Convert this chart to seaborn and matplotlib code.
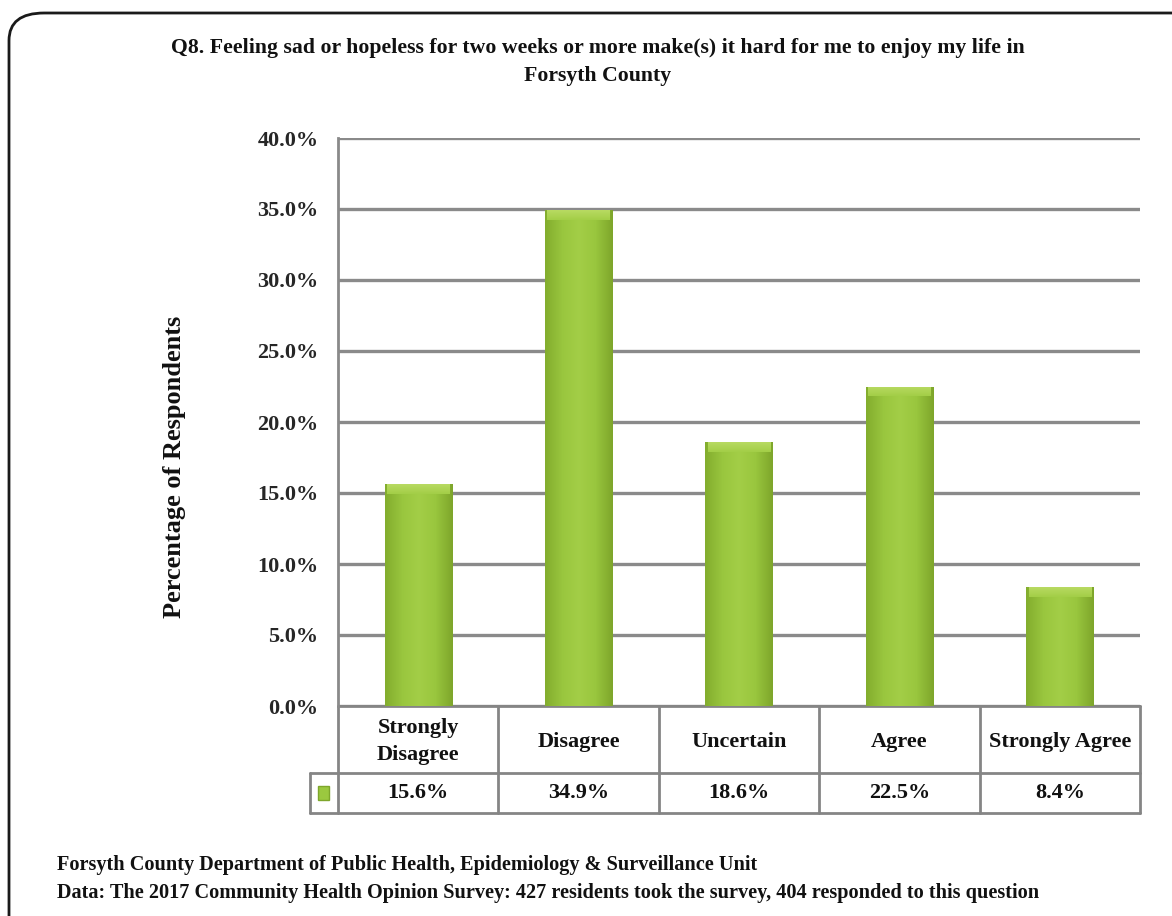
import matplotlib
matplotlib.use("Agg")
import matplotlib.pyplot as plt
import matplotlib.patches as mpatches
from matplotlib.colors import LinearSegmentedColormap
import numpy as np
import pandas as pd
import seaborn as sns

categories = ["Strongly\nDisagree", "Disagree", "Uncertain", "Agree", "Strongly Agree"]
values = [15.6, 34.9, 18.6, 22.5, 8.4]
value_labels = ["15.6%", "34.9%", "18.6%", "22.5%", "8.4%"]
yticks = [0, 5, 10, 15, 20, 25, 30, 35, 40]

title = ("Q8. Feeling sad or hopeless for two weeks or more make(s) it hard for me to enjoy my life in\n"
         "Forsyth County")
ylabel = "Percentage of Respondents"
footer1 = "Forsyth County Department of Public Health, Epidemiology & Surveillance Unit"
footer2 = ("Data: The 2017 Community Health Opinion Survey: 427 residents took the survey, "
           "404 responded to this question")

sns.set_theme(style="white")
plt.rcParams["font.family"] = ["Liberation Serif", "DejaVu Serif"]
plt.rcParams["font.weight"] = "bold"

W, H = 1172, 916
fig = plt.figure(figsize=(W / 100, H / 100), dpi=100)
fig.patch.set_facecolor("white")

# rounded outer frame
frame = mpatches.FancyBboxPatch((9 / W, -0.05), 1.2, 1.05 - 13 / H,
                                boxstyle="round,pad=0,rounding_size=0.03",
                                transform=fig.transFigure, fill=False,
                                edgecolor="#1a1a1a", linewidth=2.0)
fig.patches.append(frame)

x0, x1, y_top, y_bot = 338, 1140, 138, 706
ax = fig.add_axes([x0 / W, 1 - y_bot / H, (x1 - x0) / W, (y_bot - y_top) / H])

df = pd.DataFrame({"category": categories, "value": values})
sns.barplot(data=df, x="category", y="value", color="#9bc83f", width=0.42,
            edgecolor="none", ax=ax, zorder=3)

ax.set_xlim(-0.5, len(categories) - 0.5)
ax.set_ylim(0, 40)
ax.set_yticks(yticks)
ax.set_yticklabels([f"{t:.1f}%" for t in yticks], fontsize=16, fontweight="bold")
ax.tick_params(axis="y", length=0, pad=14)
ax.set_xticks([])
ax.set_xlabel("")
ax.set_ylabel("")
ax.grid(axis="y", color="#8a8a8a", linewidth=2.4, zorder=0)
for s in ["top", "right", "bottom"]:
    ax.spines[s].set_visible(False)
ax.spines["left"].set_color("#8a8a8a")
ax.spines["left"].set_linewidth(2)

# soft horizontal shading on each bar plus a light top bevel
cmap = LinearSegmentedColormap.from_list(
    "barshade", ["#83ad2e", "#99c63e", "#a3ce47", "#99c63e", "#7ea62b"])
cap_cmap = LinearSegmentedColormap.from_list("capshade", ["#a3ce47", "#b8da62"])
grad = np.linspace(0, 1, 64).reshape(1, -1)
vgrad = np.linspace(0, 1, 32).reshape(-1, 1)
for p in list(ax.patches):
    bx, by = p.get_x(), p.get_y()
    bw, bh = p.get_width(), p.get_height()
    im = ax.imshow(grad, cmap=cmap, aspect="auto", extent=[bx, bx + bw, by, by + bh],
                   zorder=4)
    im.set_clip_path(p)
    cap = ax.imshow(vgrad, cmap=cap_cmap, aspect="auto", origin="lower",
                    extent=[bx + 0.015, bx + bw - 0.015, by + bh - 0.7, by + bh], zorder=5)
    cap.set_clip_path(p)
ax.set_xlim(-0.5, len(categories) - 0.5)
ax.set_ylim(0, 40)

# data table under the plot
ah = y_bot - y_top
r1 = -67 / ah
r2 = -107 / ah
key_left = -0.5 - 28 / ((x1 - x0) / len(categories))
lc = "#858585"
tkw = dict(transform=ax.get_xaxis_transform(), clip_on=False, color=lc, linewidth=2)
ax.plot([-0.5, 4.5], [0, 0], **tkw)
ax.plot([key_left, 4.5], [r1, r1], **tkw)
ax.plot([key_left, 4.5], [r2, r2], **tkw)
ax.plot([key_left, key_left], [r1, r2], **tkw)
for b in np.arange(-0.5, 5.0, 1.0):
    ax.plot([b, b], [0, r2], **tkw)

tr = ax.get_xaxis_transform()
for i, (c, v) in enumerate(zip(categories, value_labels)):
    ax.text(i, r1 / 2 - 0.004, c, transform=tr, ha="center", va="center", fontsize=16,
            fontweight="bold", linespacing=1.45, color="#111111")
    ax.text(i, (r1 + r2) / 2, v, transform=tr, ha="center", va="center", fontsize=16,
            fontweight="bold", color="#111111")

ax.add_patch(mpatches.Rectangle((key_left + 0.05, (r1 + r2) / 2 - 0.012), 0.07, 0.024,
                                transform=tr, clip_on=False, facecolor="#9bc83f",
                                edgecolor="#7ea62b", linewidth=1))

fig.text(598 / W, 1 - 62 / H, title, ha="center", va="center", fontsize=15.7,
         fontweight="bold", linespacing=1.6, color="#111111")
fig.text(174 / W, 1 - 467 / H, ylabel, rotation=90, ha="center", va="center",
         fontsize=19, fontweight="bold", color="#111111")
fig.text(57 / W, 1 - 865 / H, footer1, ha="left", va="center", fontsize=14.6,
         fontweight="bold", color="#111111")
fig.text(57 / W, 1 - 893 / H, footer2, ha="left", va="center", fontsize=14.6,
         fontweight="bold", color="#111111")

fig.savefig("out.png", dpi=100, facecolor="white")
